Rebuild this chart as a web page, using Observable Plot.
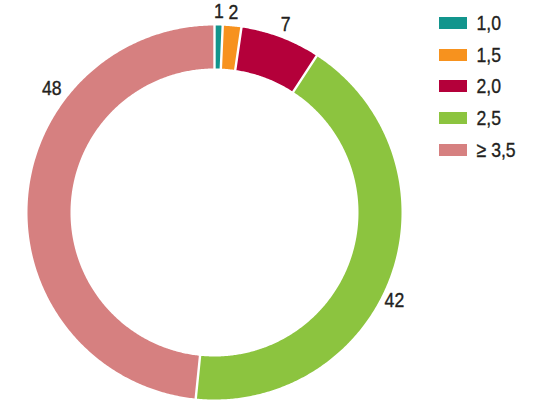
<!DOCTYPE html>
<html>
<head>
<meta charset="utf-8">
<script src="https://cdn.jsdelivr.net/npm/d3@7"></script>
<script src="https://cdn.jsdelivr.net/npm/@observablehq/plot@0.6"></script>
<style>
  html, body { margin: 0; padding: 0; background: #fff; }
  #chart { position: relative; width: 533px; height: 417px; overflow: hidden; }
  #chart > svg { position: absolute; left: 0; top: 0; }
  .lg-swatches-wrap { position: absolute !important; left: 439px; top: 7px; display: flex !important;
    flex-direction: column !important; align-items: flex-start !important; margin: 0 !important;
    font-family: "Liberation Sans", Arial, sans-serif !important;
    font-size: 21px !important; color: #231f20 !important; min-height: 0 !important;
    -webkit-text-stroke: 0.35px #231f20;
    transform: scaleX(0.84); transform-origin: 0 0; }
  .lg-swatch { height: 31.75px; margin: 0 !important; display: inline-flex !important; align-items: center !important; }
  .lg-swatch svg { position: static !important; margin-right: 11.4px !important; }
</style>
</head>
<body>
<div id="chart"></div>
<script>
// ---- data ----
const categories = ["1,0", "1,5", "2,0", "2,5", "≥ 3,5"];
const values = [0.7, 1.6, 6.9, 42.4, 48.4];          // share in %
const valueLabels = ["1", "2", "7", "42", "48"];
const colors = ["#12958d", "#f7921e", "#b4003a", "#8cc43f", "#d68080"];

// ---- layout (pixels) ----
const W = 533, H = 417;
const cx = 214, cy = 212, R = 187, r0 = 144, halfGap = 1.2;
const labelR = [201, 201, 201, 200, 205];
const labelShift = [0, 0, 0, 1.8, 9.6]; // in % units along the ring
const narrow = 0.84; // horizontal condensing of the text

const total = d3.sum(values);
const toAng = p => p / total * 2 * Math.PI;
let cum = 0;
const slices = values.map((v, i) => { const s = {cat: categories[i], v, start: cum, end: cum + v, i}; cum += v; return s; });

const pts = [];
for (const s of slices) {
  const a0 = toAng(s.start), a1 = toAng(s.end);
  const N = Math.max(8, Math.ceil((a1 - a0) * 120));
  const dO = halfGap / R, dI = halfGap / r0;
  for (let k = 0; k <= N; k++) {
    const a = (a0 + dO) + (a1 - a0 - 2 * dO) * k / N;
    pts.push({cat: s.cat, x: cx + R * Math.sin(a), y: cy - R * Math.cos(a)});
  }
  for (let k = 0; k <= N; k++) {
    const a = (a1 - dI) - (a1 - a0 - 2 * dI) * k / N;
    pts.push({cat: s.cat, x: cx + r0 * Math.sin(a), y: cy - r0 * Math.cos(a)});
  }
}

const labs = slices.map(s => {
  const a = toAng((s.start + s.end) / 2 + labelShift[s.i]);
  return {text: valueLabels[s.i], x: cx + labelR[s.i] * Math.sin(a), y: cy - labelR[s.i] * Math.cos(a)};
});

const font = '"Liberation Sans", Arial, sans-serif';

const plot = Plot.plot({
  width: W, height: H, margin: 0,
  x: {domain: [0, W], range: [0, W], axis: null},
  y: {domain: [0, H], range: [0, H], axis: null},
  color: {domain: categories, range: colors},
  style: {fontFamily: font, background: "transparent"},
  marks: [
    Plot.line(pts, {x: "x", y: "y", z: "cat", fill: "cat", stroke: "none"}),
    Plot.text(labs, {x: "x", y: "y", text: "text", fontSize: 21, fill: "#231f20",
      stroke: "#231f20", strokeWidth: 0.4,
      textAnchor: "middle", lineAnchor: "middle", fontFamily: font,
      render: (index, scales, values, dims, context, next) => {
        const g = next(index, scales, values, dims, context);
        g.querySelectorAll("text").forEach(t => {
          const tr = t.getAttribute("transform") || "";
          t.setAttribute("transform", tr + ` scale(${narrow},1)`);
        });
        return g;
      }})
  ]
});

const legend = Plot.legend({
  color: {domain: categories, range: colors},
  legend: "swatches", swatchWidth: 28 / narrow, swatchHeight: 12, className: "lg"
});

const chart = document.getElementById("chart");
chart.appendChild(plot);
chart.appendChild(legend);
</script>
</body>
</html>
